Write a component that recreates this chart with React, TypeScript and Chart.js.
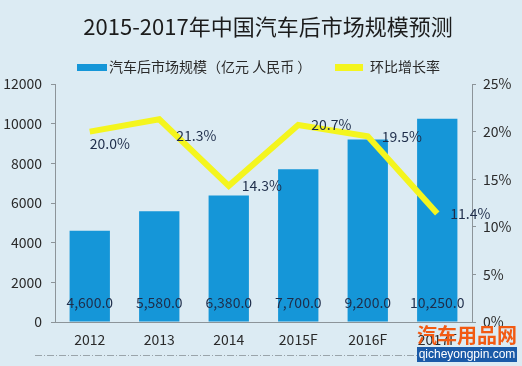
import React, { useEffect, useRef } from "react";
import { Chart, registerables } from "chart.js";

Chart.register(...registerables);

const TITLE = "2015-2017年中国汽车后市场规模预测";
const categories = ["2012", "2013", "2014", "2015F", "2016F", "2017F"];
const marketSize = [4600, 5580, 6380, 7700, 9200, 10250];
const growthRate = [20.0, 21.3, 14.3, 20.7, 19.5, 11.4];
const barSeriesName = "汽车后市场规模（亿元 人民币 ）";
const lineSeriesName = "环比增长率";
const leftTicks = [0, 2000, 4000, 6000, 8000, 10000, 12000];
const rightTicks = [0, 5, 10, 15, 20, 25];
const logoText = "汽车用品网";
const logoUrl = "qicheyongpin.com";

const FONT = "'Noto Sans CJK SC', 'Noto Sans', sans-serif";
const BG = "#dcebf3";
const BAR = "#1596d8";
const LINE = "#f4f51e";
const TEXT = "#2a2a2a";
const LABEL = "#1e2d4a";

const fmtNum = (v: number) =>
  v.toLocaleString("en-US", { minimumFractionDigits: 1, maximumFractionDigits: 1 });

export default function App() {
  const ref = useRef<HTMLCanvasElement | null>(null);
  useEffect(() => {
    document.body.style.margin = "0";
    document.body.style.background = BG;
    const canvas = ref.current!;
    const decor = {
      id: "decor",
      beforeDraw(chart: any) {
        const ctx = chart.ctx;
        ctx.save();
        ctx.fillStyle = BG;
        ctx.fillRect(0, 0, chart.width, chart.height);
        // title
        ctx.fillStyle = "#1c1c1c";
        ctx.font = `22px ${FONT}`;
        ctx.textAlign = "center";
        ctx.textBaseline = "middle";
        ctx.fillText(TITLE, 268, 27);
        // legend
        ctx.textAlign = "left";
        ctx.font = `14px ${FONT}`;
        ctx.fillStyle = BAR;
        ctx.fillRect(77, 64, 30, 7);
        ctx.fillStyle = TEXT;
        ctx.fillText(barSeriesName, 109, 67);
        ctx.fillStyle = LINE;
        ctx.fillRect(335, 64, 28, 7);
        ctx.fillStyle = TEXT;
        ctx.fillText(lineSeriesName, 370, 67);
        ctx.restore();
      },
      afterDatasetsDraw(chart: any) {
        const ctx = chart.ctx;
        ctx.save();
        // bar labels
        const barMeta = chart.getDatasetMeta(1);
        ctx.font = `14px ${FONT}`;
        ctx.fillStyle = LABEL;
        ctx.textAlign = "center";
        ctx.textBaseline = "middle";
        barMeta.data.forEach((el: any, i: number) => {
          ctx.fillText(fmtNum(marketSize[i]), el.x, 303);
        });
        // line labels
        const lineMeta = chart.getDatasetMeta(0);
        const nudge = [[0, 12], [17, 16], [13, 0], [13, 0], [14, 0], [13, 0]];
        ctx.textAlign = "left";
        lineMeta.data.forEach((el: any, i: number) => {
          ctx.fillText(growthRate[i].toFixed(1) + "%", el.x + nudge[i][0], el.y + nudge[i][1]);
        });
        ctx.restore();
      },
      afterDraw(chart: any) {
        const ctx = chart.ctx;
        ctx.save();
        // dotted separator
        ctx.strokeStyle = "#9aa4aa";
        ctx.lineWidth = 1;
        ctx.setLineDash([7, 2, 1, 2]);
        ctx.beginPath();
        ctx.moveTo(35, 355.5);
        ctx.lineTo(418, 355.5);
        ctx.stroke();
        ctx.setLineDash([]);
        // logo
        ctx.fillStyle = "#f25a12";
        ctx.font = `bold 20px ${FONT}`;
        ctx.textAlign = "center";
        ctx.textBaseline = "middle";
        ctx.fillText(logoText, 467, 335);
        ctx.fillStyle = "#1a5aa8";
        ctx.fillRect(417, 347, 100, 15);
        ctx.fillStyle = "#ffffff";
        ctx.font = `12px 'Liberation Sans', Arial, sans-serif`;
        ctx.fillText(logoUrl, 467, 355);
        ctx.restore();
      },
    };
    const chart = new Chart(canvas, {
      type: "bar",
      data: {
        labels: categories,
        datasets: [
          {
            type: "line",
            label: lineSeriesName,
            data: growthRate,
            yAxisID: "y1",
            borderColor: LINE,
            backgroundColor: LINE,
            borderWidth: 6,
            pointRadius: 0,
            tension: 0,
            order: 0,
          } as any,
          {
            type: "bar",
            label: barSeriesName,
            data: marketSize,
            yAxisID: "y",
            backgroundColor: BAR,
            barPercentage: 0.58,
            categoryPercentage: 1,
            order: 1,
          },
        ],
      },
      plugins: [decor],
      options: {
        animation: false,
        responsive: false,
        devicePixelRatio: 1,
        layout: { padding: { top: 84, left: 0, right: 0, bottom: 0 } },
        plugins: {
          legend: { display: false },
          title: { display: false },
          tooltip: { enabled: false },
        },
        scales: {
          x: {
            grid: { display: false, drawTicks: false },
            border: { display: true, color: "#8c9499", width: 1 },
            ticks: { color: TEXT, font: { family: FONT, size: 14 }, padding: 9 },
            afterFit(scale: any) {
              scale.height = 44;
            },
          },
          y: {
            position: "left",
            min: 0,
            max: 12000,
            afterBuildTicks(scale: any) {
              scale.ticks = leftTicks.map((v) => ({ value: v }));
            },
            grid: { drawOnChartArea: false, tickLength: 4, color: "#8c9499" },
            border: { display: true, color: "#8c9499" },
            ticks: {
              color: TEXT,
              font: { family: FONT, size: 14 },
              padding: 9,
              callback: (v: any) => String(v),
            },
            afterFit(scale: any) {
              scale.width = 55;
            },
          },
          y1: {
            position: "right",
            min: 0,
            max: 25,
            afterBuildTicks(scale: any) {
              scale.ticks = rightTicks.map((v) => ({ value: v }));
            },
            grid: { drawOnChartArea: false, tickLength: 4, color: "#8c9499" },
            border: { display: true, color: "#8c9499" },
            ticks: {
              color: TEXT,
              font: { family: FONT, size: 14 },
              padding: 7,
              callback: (v: any) => v + "%",
            },
            afterFit(scale: any) {
              scale.width = 50;
            },
          },
        },
      } as any,
    });
    return () => chart.destroy();
  }, []);
  return <canvas ref={ref} width={522} height={366} style={{ display: "block" }} />;
}
